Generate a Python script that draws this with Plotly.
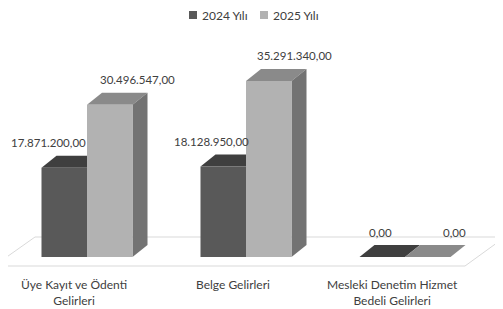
import plotly.graph_objects as go

# ---- data ----
categories = ["Üye Kayıt ve Ödenti<br>Gelirleri", "Belge Gelirleri", "Mesleki Denetim Hizmet<br>Bedeli Gelirleri"]
series_names = ["2024 Yılı", "2025 Yılı"]
values_2024 = [17871200.00, 18128950.00, 0.00]
values_2025 = [30496547.00, 35291340.00, 0.00]
series_values = [values_2024, values_2025]

# ---- styling / layout constants (pixels in the 503x309 window) ----
WIN_W, WIN_H = 503, 309
OFF = 8                          # default page body margin
W, H = WIN_W - OFF, WIN_H - OFF  # figure size
X0PX, XSTEP = 87, 159            # window pixel of category 0 centre, pixels per category
Y0PX, YSCALE = 257, 4.99e-6      # window pixel of value 0, pixels per unit value
FONT = "Lato, 'Open Sans', sans-serif"
TXT = "#404040"
front_cols = ["#595959", "#b2b2b2"]
top_cols = ["#3f3f3f", "#8a8a8a"]
side_cols = ["#4a4a4a", "#737373"]
label_dx_px = [[-16, -12, -2], [28, 26, 27]]
cat_dx_px = -13


def xd(px):
    return (px - X0PX) / XSTEP


def yd(py):
    return (Y0PX - py) / YSCALE


def xp(px):
    return (px - OFF) / W


def yp(py):
    return 1 - (py - OFF) / H


bar_w = 45.5 / XSTEP
dxd = 15 / XSTEP
dyd = 12 / YSCALE


def fmt(v):
    s = f"{v:,.2f}"
    return s.replace(",", "X").replace(".", ",").replace("X", ".")


fig = go.Figure()
shapes = []
annotations = []

# floor
fl = [(-6, 266), (35, 237), (505, 237), (465, 266)]
path = "M " + " L ".join(f"{xd(a)},{yd(b)}" for a, b in fl) + " Z"
shapes.append(dict(type="path", path=path, xref="x", yref="y", layer="below",
                   line=dict(color="#d9d9d9", width=1), fillcolor="white"))

xs = list(range(len(categories)))
for s, vals in enumerate(series_values):
    off = -bar_w if s == 0 else 0.0
    for i, v in zip(xs, vals):
        xl = i + off
        xr = xl + bar_w
        top = f"M {xl},{v} L {xr},{v} L {xr+dxd},{v+dyd} L {xl+dxd},{v+dyd} Z"
        shapes.append(dict(type="path", path=top, xref="x", yref="y", layer="below",
                           line=dict(width=0), fillcolor=top_cols[s]))
        if v > 0:
            side = f"M {xr},0 L {xr},{v} L {xr+dxd},{v+dyd} L {xr+dxd},{dyd} Z"
            shapes.append(dict(type="path", path=side, xref="x", yref="y", layer="below",
                               line=dict(width=0), fillcolor=side_cols[s]))
        annotations.append(dict(x=xl + bar_w / 2 + label_dx_px[s][i] / XSTEP, y=v + dyd,
                                xref="x", yref="y", text=fmt(v), showarrow=False,
                                yshift=13, font=dict(family=FONT, size=11.5, color=TXT)))
    fig.add_trace(go.Bar(x=xs, y=vals, width=bar_w, offset=off, name=series_names[s],
                         marker=dict(color=front_cols[s], line=dict(width=0)),
                         hoverinfo="skip", showlegend=False))

# category labels
for i, c in zip(xs, categories):
    annotations.append(dict(x=i + cat_dx_px / XSTEP, y=yd(275), xref="x", yref="y",
                            text=c, showarrow=False, yanchor="top",
                            font=dict(family=FONT, size=12, color=TXT)))

# legend (manual)
leg_x = [189, 260]
for s, name in enumerate(series_names):
    shapes.append(dict(type="rect", xref="paper", yref="paper",
                       x0=xp(leg_x[s]), x1=xp(leg_x[s] + 8),
                       y0=yp(19), y1=yp(11),
                       line=dict(width=0), fillcolor=front_cols[s]))
    annotations.append(dict(x=xp(leg_x[s] + 11), y=yp(15), xref="paper", yref="paper",
                            text=name, showarrow=False, xanchor="left", yanchor="middle",
                            font=dict(family=FONT, size=12, color=TXT)))

fig.update_layout(
    width=W, height=H, autosize=False,
    margin=dict(l=0, r=0, t=0, b=0),
    paper_bgcolor="white", plot_bgcolor="white",
    barmode="overlay", showlegend=False,
    xaxis=dict(range=[xd(OFF), xd(WIN_W)], visible=False, fixedrange=True),
    yaxis=dict(range=[yd(WIN_H), yd(OFF)], visible=False, fixedrange=True),
    shapes=shapes, annotations=annotations,
)

fig.write_html("out.html")
